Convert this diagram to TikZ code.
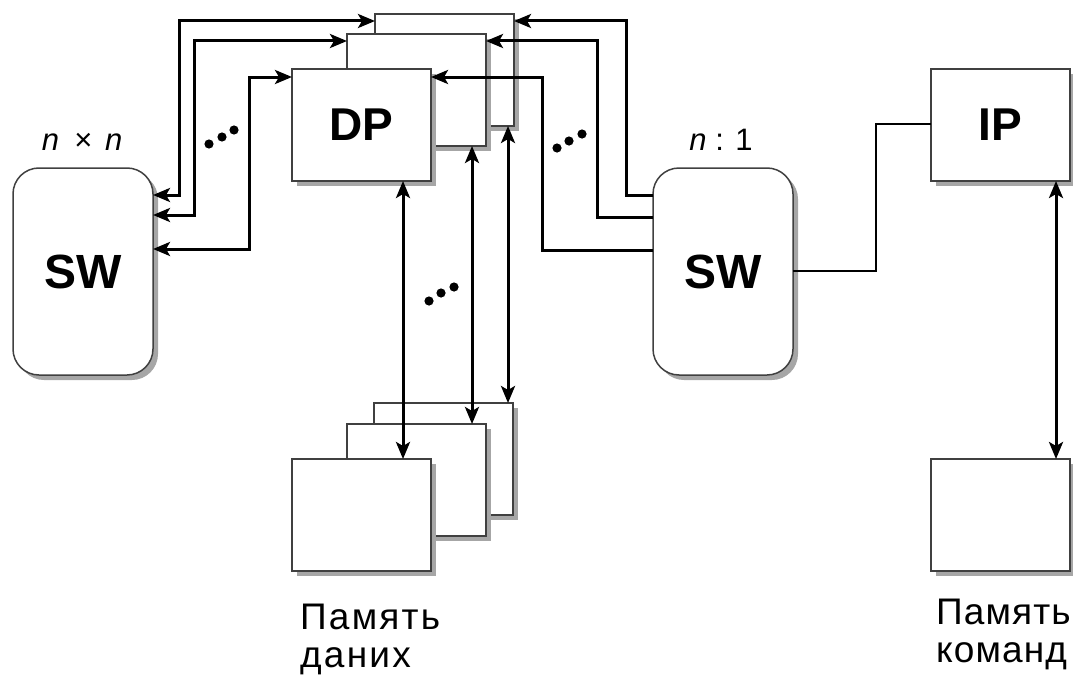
\documentclass[tikz,border=0pt]{standalone}
\usepackage{fontspec}
\setmainfont{Liberation Sans}
\usetikzlibrary{arrows.meta,shadows}
\begin{document}
\begin{tikzpicture}[x=1pt,y=-1pt,
  blk/.style={draw=black!75, line width=1.5pt, fill=white, inner sep=0pt, outer sep=0pt,
    anchor=north west, minimum width=139pt, minimum height=112pt,
    drop shadow={shadow xshift=5pt, shadow yshift=-5pt, fill=black!35, opacity=1}},
  swbox/.style={blk, rounded corners=26pt, minimum width=140pt, minimum height=207pt},
  wire/.style={line width=3pt, black},
  onetip/.style={wire, -{Stealth[length=17pt,width=14pt,inset=4pt]}},
  bitip/.style={wire, {Stealth[length=17pt,width=14pt,inset=4pt]}-{Stealth[length=17pt,width=14pt,inset=4pt]}},
  big/.style={font=\fontsize{46}{50}\selectfont\bfseries},
  bigsw/.style={font=\fontsize{48}{52}\selectfont\bfseries},
  ratio/.style={font=\fontsize{31}{34}\selectfont, anchor=base, inner sep=0pt},
  memtxt/.style={font=\fontsize{37}{40}\selectfont\addfontfeature{LetterSpace=6}, anchor=base west, inner sep=0pt},
  memtxtr/.style={font=\fontsize{37}{40}\selectfont\addfontfeature{LetterSpace=3}, anchor=base west, inner sep=0pt},
  dot/.style={fill=black, draw=none}
]
\useasboundingbox (0,0) rectangle (1073,677);

% top stack (processors)
\node[blk] (t3) at (375,14) {};
\node[blk] (t2) at (347,34) {};
\node[blk, big] (dp) at (292,69) {DP};

% bottom stack (data memory)
\node[blk] (b3) at (374,403) {};
\node[blk] (b2) at (347,424) {};
\node[blk] (b1) at (292,459) {};

% switches
\node[swbox, bigsw] (swL) at (13,168) {SW};
\node[swbox, bigsw] (swR) at (653,168) {SW};

% instruction processor and memory
\node[blk, big] (ip) at (931,69) {IP};
\node[blk] (mc) at (931,459) {};

% labels
\node[ratio] (lnn) at (82,150) {{\itshape n}\hspace{0.5em}×\hspace{0.4em}{\itshape n}};
\node[ratio] (ln1) at (721,150) {{\itshape n} : 1};
\node[memtxt] (md1) at (300,629) {Память};
\node[memtxt] (md2) at (300,667) {даних};
\node[memtxtr] (mk1) at (936,624) {Память};
\node[memtxtr] (mk2) at (936,662) {команд};

% left switch <-> processors
\draw[bitip] (swL.east |- 0,195) -| (179,21) -- (t3.west |- 0,21);
\draw[bitip] (swL.east |- 0,215) -| (194,41) -- (t2.west |- 0,41);
\draw[bitip] (swL.east |- 0,249) -| (249,77) -- (dp.west |- 0,77);

% right switch -> processors
\draw[onetip] (swR.west |- 0,195) -| (626,21) -- (t3.east |- 0,21);
\draw[onetip] (swR.west |- 0,217) -| (597,41) -- (t2.east |- 0,41);
\draw[onetip] (swR.west |- 0,250) -| (542,77) -- (dp.east |- 0,77);

% processors <-> data memory
\draw[bitip] (dp.south -| 403,0) -- (b1.north -| 403,0);
\draw[bitip] (t2.south -| 472,0) -- (b2.north -| 472,0);
\draw[bitip] (t3.south -| 508,0) -- (b3.north -| 508,0);

% switch -- IP
\draw[wire, line width=2.8pt] (swR.east |- 0,271) -| (876,124) -- (ip.west |- 0,124);

% IP <-> instruction memory
\draw[bitip] (ip.south -| 1056,0) -- (mc.north -| 1056,0);

% ellipsis dots
\foreach \x/\y in {209/144, 222/137, 234/130} \fill[dot] (\x,\y) circle (4.6pt);
\foreach \x/\y in {557/148, 569/141, 582/134} \fill[dot] (\x,\y) circle (4.6pt);
\foreach \x/\y in {429/301, 441/293, 454/287} \fill[dot] (\x,\y) circle (4.6pt);
\end{tikzpicture}
\end{document}
